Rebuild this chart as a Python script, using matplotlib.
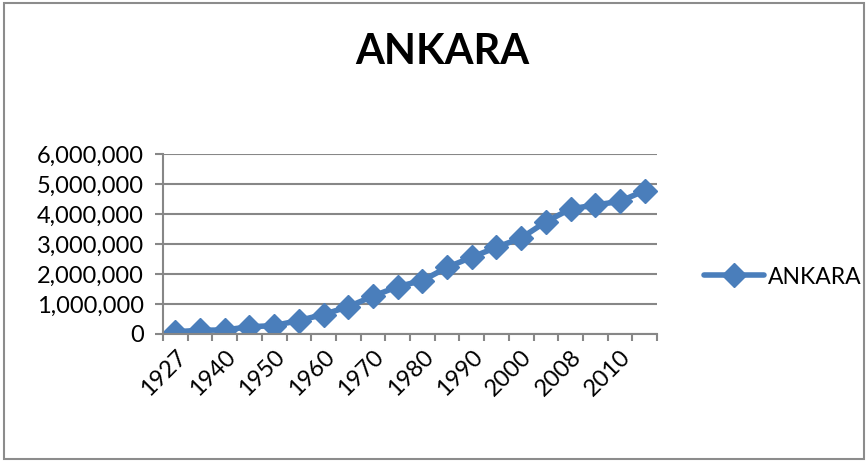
import matplotlib.pyplot as plt
from matplotlib.patches import Rectangle
from matplotlib.ticker import FuncFormatter

plt.rcParams["font.family"] = ["Lato", "DejaVu Sans"]

YEARS = ["1927", "1935", "1940", "1945", "1950", "1955", "1960", "1965", "1970", "1975",
         "1980", "1985", "1990", "1997", "2000", "2007", "2008", "2009", "2010", "2011"]
POPULATION = [75000, 123000, 135000, 240000, 280000, 450000, 650000, 910000, 1260000, 1580000,
              1780000, 2220000, 2560000, 2890000, 3200000, 3740000, 4170000, 4300000, 4420000, 4780000]
SERIES_NAME = "ANKARA"
LINE_COLOR = "#4A7EBB"
GRID_COLOR = "#878787"

fig = plt.figure(figsize=(8.68, 4.63), dpi=100)
ax = fig.add_axes([163 / 868, 1 - 334 / 463, (657 - 163) / 868, (334 - 154) / 463])

x = list(range(len(YEARS)))
ax.plot([i + 0.5 for i in x], POPULATION, color=LINE_COLOR, linewidth=4,
        marker="D", markersize=12, label=SERIES_NAME, solid_joinstyle="round",
        solid_capstyle="round")

ax.set_xlim(0, len(YEARS))
ax.set_ylim(0, 6000000)
ax.set_yticks(range(0, 6000001, 1000000))
ax.yaxis.set_major_formatter(FuncFormatter(lambda v, p: f"{int(v):,}"))
ax.grid(True, axis="y", color=GRID_COLOR, linewidth=1.5)
ax.set_axisbelow(True)

# category ticks on boundaries, labels every second category
ax.set_xticks(range(len(YEARS) + 1))
ax.set_xticklabels([])
ax.set_xticks([i + 0.5 for i in x[::2]], minor=True)
ax.set_xticklabels(YEARS[::2], minor=True, rotation=45, ha="right", va="top",
                   rotation_mode="anchor", fontsize=17)
ax.tick_params(axis="x", which="minor", length=0, pad=9)
ax.tick_params(axis="x", which="major", length=5, width=1.5, color=GRID_COLOR)
ax.tick_params(axis="y", length=6, width=1.5, color=GRID_COLOR, labelsize=17, pad=8)

for side in ["top", "right"]:
    ax.spines[side].set_visible(False)
for side in ["left", "bottom"]:
    ax.spines[side].set_color(GRID_COLOR)
    ax.spines[side].set_linewidth(1.5)

fig.text(442 / 868, 1 - 52 / 463, "ANKARA", ha="center", va="center",
         fontsize=30, fontweight="bold")

ax.legend(loc="center left", bbox_to_anchor=(704 / 868, 1 - 277 / 463),
          bbox_transform=fig.transFigure, frameon=False, fontsize=16.5,
          handlelength=2.6, handletextpad=0.2, borderpad=0, borderaxespad=0)

fig.patches.append(Rectangle((4 / 868, 4 / 463), 860 / 868, 456 / 463,
                             transform=fig.transFigure, fill=False,
                             edgecolor="#8c8c8c", linewidth=1.5))

fig.savefig("out.png", dpi=100)
